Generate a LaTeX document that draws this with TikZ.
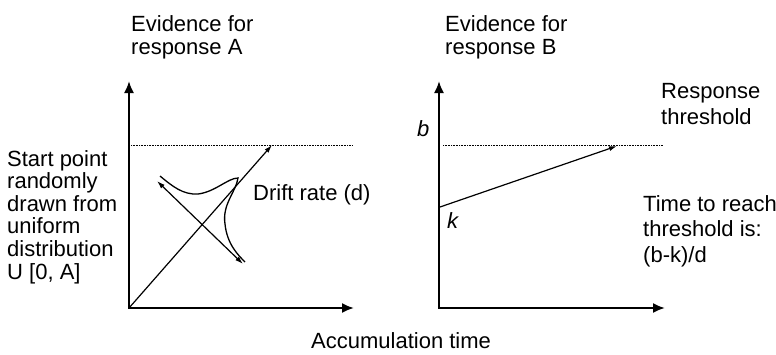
\documentclass[tikz,border=0pt]{standalone}
\usepackage{fontspec}
\setmainfont{Liberation Sans}
\usetikzlibrary{arrows.meta}
\begin{document}
\begin{tikzpicture}[x=1pt,y=-1pt,
  lbl/.style={inner sep=0pt, anchor=base west, align=left},
  fs/.style={font=\fontsize{22}{#1}\selectfont},
  axis/.style={line width=2pt, {Latex[length=12pt,width=10pt]}-{Latex[length=12pt,width=10pt]}},
  thr/.style={line width=0.7pt, dash pattern=on 0.8pt off 0.8pt},
  drift/.style={line width=1.2pt, -{Latex[length=8pt,width=5pt]}},
  ddrift/.style={line width=1.2pt, {Latex[length=8pt,width=5pt]}-{Latex[length=8pt,width=5pt]}},
  dens/.style={line width=1.3pt},
]
\useasboundingbox (0,0) rectangle (776,354);

% ---------- left panel ----------
\coordinate (oA) at (129,308);
\coordinate (yA) at (129,81);
\coordinate (xA) at (354,308);
\coordinate (tA1) at (131,145);
\coordinate (tA2) at (353,145);
\coordinate (pA) at (272,145);
\coordinate (dA1) at (157,181);
\coordinate (dA2) at (243,264);
\coordinate (cA0) at (160,176);
\coordinate (cA1) at (198,194);
\coordinate (cA2) at (238,178);
\coordinate (cA3) at (225,224);
\coordinate (cA4) at (245,262);

\draw[thr] (tA1) -- (tA2);
\draw[axis] (yA) -- (oA) -- (xA);
\draw[drift] (oA) -- (pA);
\draw[ddrift] (dA1) -- (dA2);
\draw[dens] (cA0) .. controls (172,186) and (183,195) .. (cA1)
  .. controls (215,192) and (228,178) .. (cA2)
  .. controls (236,192) and (222,204) .. (cA3)
  .. controls (227,244) and (238,255) .. (cA4);

\node[lbl, fs=22.6] (evA) at (131,54.5) {Evidence for\\response A};
\node[lbl, fs=22.6] (start) at (7,279) {Start point\\randomly\\drawn from\\uniform\\distribution\\U [0, A]};
\node[lbl, fs=22.6] (drift) at (253,200) {Drift rate (d)};

% ---------- right panel ----------
\coordinate (oB) at (439,308);
\coordinate (yB) at (439,81);
\coordinate (xB) at (665,308);
\coordinate (tB1) at (443,145);
\coordinate (tB2) at (663,145);
\coordinate (kB) at (440,207);
\coordinate (pB) at (617,146);

\draw[thr] (tB1) -- (tB2);
\draw[axis] (yB) -- (oB) -- (xB);
\draw[drift] (kB) -- (pB);

\node[lbl, fs=22.6] (bl) at (417,136) {\textit{b}};
\node[lbl, fs=22.6] (kl) at (447,228) {\textit{k}};
\node[lbl, fs=22.6] (evB) at (445,54.5) {Evidence for\\response B};
\node[lbl, fs=26] (resp) at (661,124) {Response\\threshold};
\node[lbl, fs=25.5] (time) at (643,262) {Time to reach\\threshold is:\\(b-k)/d};

% ---------- common ----------
\node[lbl, fs=22.6] (acc) at (311,348) {Accumulation time};
\end{tikzpicture}
\end{document}
